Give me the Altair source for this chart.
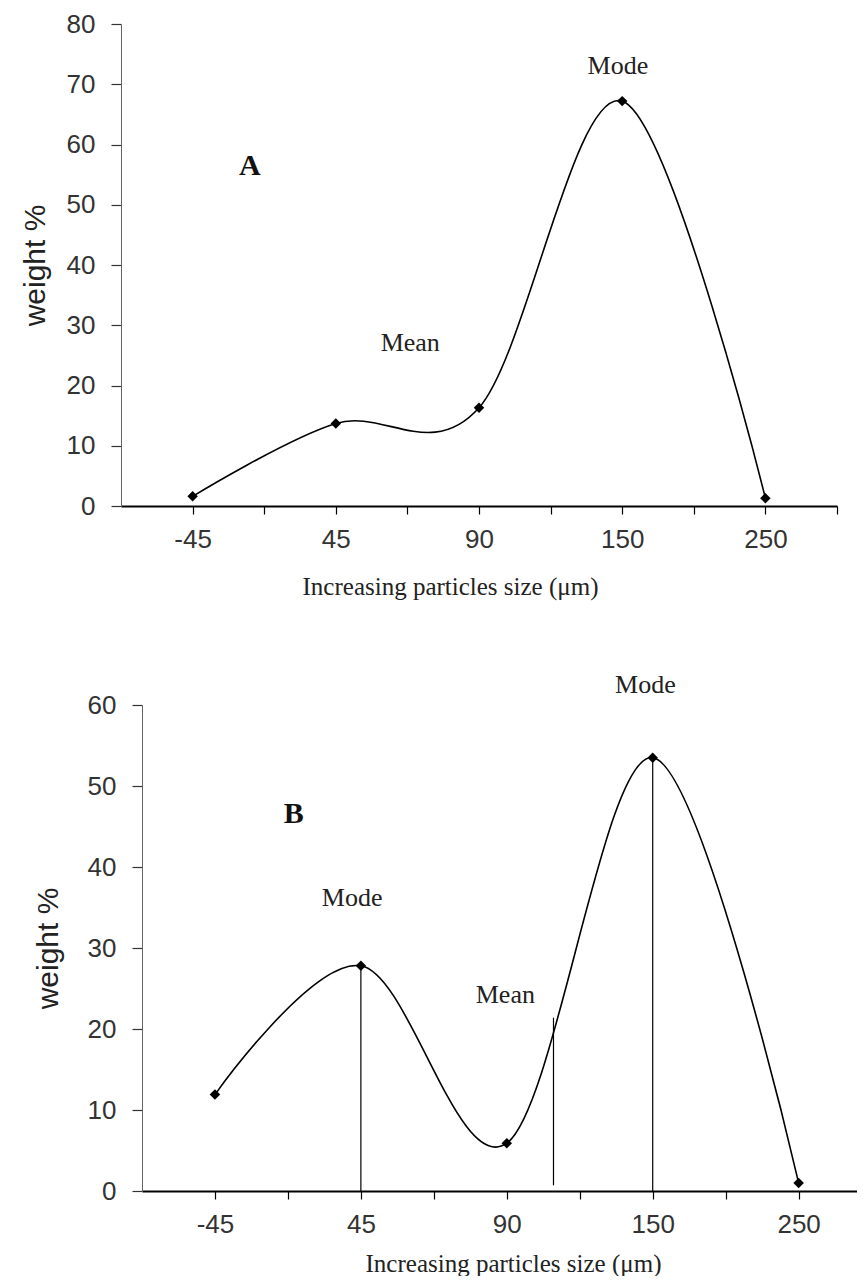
import altair as alt
import pandas as pd

# ---- data ----
categories = ['-45', '45', '90', '150', '250']
weight_a = [1.6, 13.7, 16.3, 67.2, 1.3]
weight_b = [11.9, 27.8, 5.9, 53.5, 1.0]

# annotations (x = category index, y = weight %)
letter_a, letter_a_x, letter_a_y = 'A', 0.4, 56.5
notes_a_text = ['Mean', 'Mode']
notes_a_x = [1.52, 2.97]
notes_a_y = [27, 73]

letter_b, letter_b_x, letter_b_y = 'B', 0.54, 46.5
notes_b_text = ['Mode', 'Mean', 'Mode']
notes_b_x = [0.94, 1.99, 2.95]
notes_b_y = [36.2, 24.2, 62.5]

# vertical guide lines in panel B (mode, mean, mode)
guide_b_x = [1.0, 2.32, 3.0]
guide_b_y0 = [0.0, 0.7, 0.0]
guide_b_y1 = [27.8, 21.4, 53.5]

ticks_a = [0, 0.5, 1, 1.5, 2, 2.5, 3, 3.5, 4, 4.5]
ticks_b = [0, 0.5, 1, 1.5, 2, 2.5, 3, 3.5, 4]
yticks_a = [0, 10, 20, 30, 40, 50, 60, 70, 80]
yticks_b = [0, 10, 20, 30, 40, 50, 60]

x_title = 'Increasing particles size (μm)'
y_title = 'weight %'

arr = '[' + ','.join("'" + c + "'" for c in categories) + ']'
label_expr = "datum.value % 1 == 0 ? " + arr + "[datum.value] : ''"

SANS = 'Liberation Sans'
SERIF = 'Liberation Serif'


def panel(weights, ymax, yticks, xmax, xticks, width, height, rng, yoff, title_x,
          xtitle_pad, ytitle_pad,
          letter, lx, ly, ntext, nx, ny, gx=None, gy0=None, gy1=None):
    xenc = alt.X('idx:Q',
                 scale=alt.Scale(domain=[-0.5, xmax], range=rng, nice=False, zero=False),
                 axis=alt.Axis(values=xticks, labelExpr=label_expr, title=x_title,
                               grid=False, domainColor='black', domainWidth=2,
                               tickColor='black', tickSize=8, tickWidth=1.2,
                               labelFont=SANS, labelFontSize=26, labelColor='#333',
                               labelPadding=12, labelFlush=False,
                               titleFont=SERIF, titleFontSize=25, titleFontWeight='normal',
                               titleColor='#222', titlePadding=xtitle_pad, titleX=title_x))
    yenc = alt.Y('weight:Q',
                 scale=alt.Scale(domain=[0, ymax], nice=False),
                 axis=alt.Axis(values=yticks, title=y_title, offset=yoff, grid=False,
                               domainColor='#666', domainWidth=1,
                               tickColor='#333', tickSize=10, tickWidth=1.2,
                               labelFont=SANS, labelFontSize=26, labelColor='#333',
                               labelPadding=16,
                               titleFont=SANS, titleFontSize=30, titleFontWeight='normal',
                               titleColor='#222', titlePadding=ytitle_pad))

    df = pd.DataFrame({'idx': list(range(len(categories))), 'size': categories,
                       'weight': weights})
    line = alt.Chart(df).mark_line(interpolate='cardinal', color='black',
                                   strokeWidth=1.6).encode(x=xenc, y=yenc)
    pts = alt.Chart(df).mark_point(shape='diamond', filled=True, size=110,
                                   color='black', opacity=1).encode(x=xenc, y=yenc)
    let_df = pd.DataFrame({'idx': [lx], 'weight': [ly], 't': [letter]})
    let = alt.Chart(let_df).mark_text(font=SERIF, fontSize=30, fontWeight='bold',
                                      color='#111').encode(x=xenc, y=yenc, text='t:N')
    n_df = pd.DataFrame({'idx': nx, 'weight': ny, 't': ntext})
    notes = alt.Chart(n_df).mark_text(font=SERIF, fontSize=26,
                                      color='#222').encode(x=xenc, y=yenc, text='t:N')
    layers = [line, pts, let, notes]
    if gx is not None:
        g_df = pd.DataFrame({'idx': gx, 'weight': gy0, 'weight2': gy1})
        rules = alt.Chart(g_df).mark_rule(color='black', strokeWidth=1.2).encode(
            x=xenc, y=yenc, y2='weight2:Q')
        layers.insert(0, rules)
    return alt.layer(*layers).properties(width=width, height=height)


chart_a = panel(weight_a, 80, yticks_a, 4.5, ticks_a, 716, 482, [0, 716], 0, 329, 22, 16,
                letter_a, letter_a_x, letter_a_y, notes_a_text, notes_a_x, notes_a_y)
chart_b = panel(weight_b, 60, yticks_b, 4.4, ticks_b, 736, 486, [21, 736], -21, 392, 14, 24,
                letter_b, letter_b_x, letter_b_y, notes_b_text, notes_b_x, notes_b_y,
                guide_b_x, guide_b_y0, guide_b_y1)

chart = alt.vconcat(chart_a, chart_b, spacing=72).properties(
    padding={'left': 12, 'top': 3, 'right': 0, 'bottom': 0}
).configure(background='white').configure_view(stroke=None)

chart.save('out.html', embed_options={'renderer': 'svg', 'actions': False})
